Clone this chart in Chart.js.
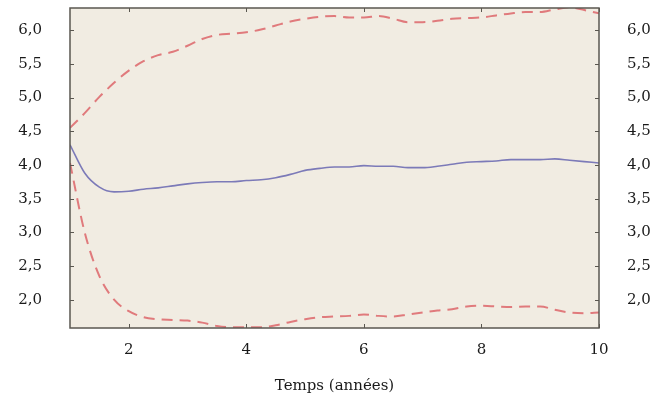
<!DOCTYPE html>
<html>
<head>
<meta charset="utf-8">
<script src="https://cdn.jsdelivr.net/npm/chart.js@4/dist/chart.umd.min.js"></script>
<style>
  html, body { margin: 0; padding: 0; background: #ffffff; }
  #wrap { width: 665px; height: 398px; }
</style>
</head>
<body>
<div id="wrap"><canvas id="chart" width="665" height="398"></canvas></div>
<script>
// --- data ---
const years = [1.0, 1.25, 1.5, 1.75, 2.0, 2.25, 2.5, 2.75, 3.0, 3.25, 3.5, 3.75, 4.0, 4.25, 4.5, 4.75,
    5.0, 5.25, 5.5, 5.75, 6.0, 6.25, 6.5, 6.75, 7.0, 7.25, 7.5, 7.75, 8.0, 8.25, 8.5, 8.75,
    9.0, 9.25, 9.5, 9.75, 10.0];
const meanValues = [4.30, 3.88, 3.67, 3.60, 3.61, 3.64, 3.66, 3.69, 3.72, 3.74, 3.75, 3.75, 3.77, 3.78, 3.81, 3.86,
    3.92, 3.95, 3.97, 3.97, 3.99, 3.98, 3.98, 3.96, 3.96, 3.98, 4.01, 4.04, 4.05, 4.06, 4.08, 4.08,
    4.08, 4.09, 4.07, 4.05, 4.03];
const upperValues = [4.55, 4.77, 5.01, 5.22, 5.40, 5.54, 5.63, 5.68, 5.77, 5.87, 5.93, 5.95, 5.97, 6.01, 6.07, 6.13,
    6.17, 6.20, 6.21, 6.19, 6.19, 6.21, 6.17, 6.12, 6.12, 6.14, 6.17, 6.18, 6.19, 6.22, 6.25, 6.27,
    6.27, 6.31, 6.34, 6.30, 6.25];
const lowerValues = [4.03, 3.00, 2.35, 2.00, 1.83, 1.74, 1.71, 1.70, 1.69, 1.66, 1.61, 1.59, 1.59, 1.59, 1.62, 1.67,
    1.71, 1.74, 1.75, 1.76, 1.78, 1.76, 1.75, 1.78, 1.81, 1.84, 1.86, 1.90, 1.91, 1.90, 1.89, 1.90,
    1.90, 1.85, 1.81, 1.80, 1.81];
const xTicks = [2, 4, 6, 8, 10];
const yTicks = [2.0, 2.5, 3.0, 3.5, 4.0, 4.5, 5.0, 5.5, 6.0];
const xTitle = 'Temps (années)';

const toPoints = vals => vals.map((v, i) => ({ x: years[i], y: v }));
const fmt = v => v.toFixed(1).replace('.', ',');

const serif = "'DejaVu Serif', 'Liberation Serif', serif";
const frameColor = '#5a5750';

// beige plot area, frame and inward tick marks on all four sides
const framePlugin = {
    id: 'frame',
    beforeDraw(chart) {
        const { ctx, chartArea: a } = chart;
        ctx.save();
        ctx.fillStyle = '#f1ece2';
        ctx.fillRect(a.left, a.top, a.right - a.left, a.bottom - a.top);
        ctx.restore();
    },
    afterDraw(chart) {
        const { ctx, chartArea: a, scales } = chart;
        ctx.save();
        ctx.strokeStyle = frameColor;
        ctx.lineWidth = 1.5;
        ctx.strokeRect(a.left, a.top, a.right - a.left, a.bottom - a.top);
        ctx.lineWidth = 1;
        const len = 4;
        ctx.beginPath();
        xTicks.forEach(t => {
            const px = Math.round(scales.x.getPixelForValue(t)) + 0.5;
            ctx.moveTo(px, a.bottom); ctx.lineTo(px, a.bottom - len);
            ctx.moveTo(px, a.top); ctx.lineTo(px, a.top + len);
        });
        yTicks.forEach(t => {
            const py = Math.round(scales.y.getPixelForValue(t)) + 0.5;
            ctx.moveTo(a.left, py); ctx.lineTo(a.left + len, py);
            ctx.moveTo(a.right, py); ctx.lineTo(a.right - len, py);
        });
        ctx.stroke();
        ctx.restore();
    }
};

const yAxis = (position) => ({
    type: 'linear',
    position: position,
    min: 1.58,
    max: 6.33,
    afterBuildTicks: scale => { scale.ticks = yTicks.map(v => ({ value: v })); },
    afterFit: scale => {
        scale.width = position === 'left' ? 70 : 66;
        // tick padding should not push the plot down
        scale.paddingTop = 0;
        scale.paddingBottom = 0;
    },
    grid: { display: false, drawTicks: false },
    border: { display: false },
    ticks: {
        padding: 28,
        color: '#1a1a1a',
        font: { family: serif, size: 15 },
        callback: v => fmt(v)
    }
});

new Chart(document.getElementById('chart'), {
    type: 'line',
    data: {
        datasets: [
            {
                label: 'Borne supérieure',
                data: toPoints(upperValues),
                borderColor: '#e07a7c',
                borderWidth: 2,
                borderDash: [11, 7],
                pointRadius: 0,
                cubicInterpolationMode: 'monotone'
            },
            {
                label: 'Moyenne',
                data: toPoints(meanValues),
                borderColor: '#7c7ab8',
                borderWidth: 1.6,
                pointRadius: 0,
                cubicInterpolationMode: 'monotone'
            },
            {
                label: 'Borne inférieure',
                data: toPoints(lowerValues),
                borderColor: '#e07a7c',
                borderWidth: 2,
                borderDash: [11, 7],
                pointRadius: 0,
                cubicInterpolationMode: 'monotone'
            }
        ]
    },
    options: {
        responsive: false,
        animation: false,
        layout: { padding: { top: 8, left: 0, right: 0, bottom: 0 } },
        plugins: {
            legend: { display: false },
            tooltip: { enabled: false }
        },
        scales: {
            x: {
                type: 'linear',
                min: 1,
                max: 10,
                afterBuildTicks: scale => { scale.ticks = xTicks.map(v => ({ value: v })); },
                afterFit: scale => { scale.height = 70; },
                grid: { display: false, drawTicks: false },
                border: { display: false },
                ticks: {
                    padding: 13,
                    color: '#1a1a1a',
                    font: { family: serif, size: 15 },
                    maxRotation: 0
                },
                title: {
                    display: true,
                    text: xTitle,
                    color: '#1a1a1a',
                    font: { family: serif, size: 15 },
                    padding: { top: 0, bottom: 3 }
                }
            },
            y: yAxis('left'),
            y2: yAxis('right')
        }
    },
    plugins: [framePlugin]
});
</script>
</body>
</html>
